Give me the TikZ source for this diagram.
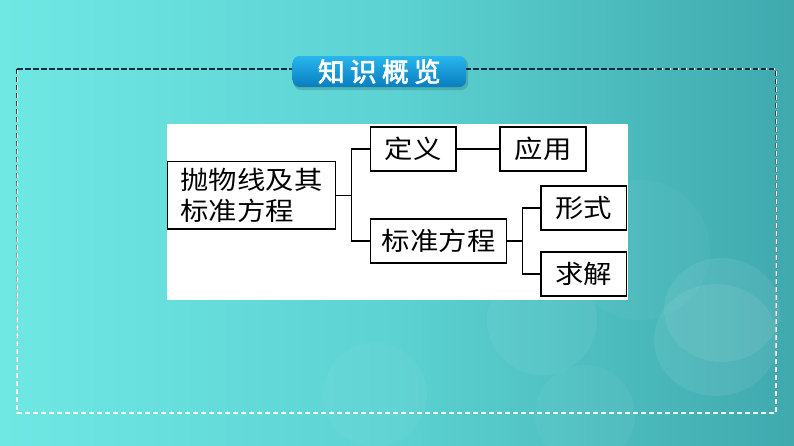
\documentclass[tikz,border=0pt]{standalone}
\usepackage{fontspec}
\usepackage{tikz}
\usetikzlibrary{fadings}
\newfontfamily\cjk[FakeStretch=1.12]{Noto Sans CJK SC}
\newfontfamily\cjkbold[FakeBold=2.5]{Noto Sans CJK SC}
\definecolor{bgLeft}{HTML}{6FE8E4}
\definecolor{bgMid}{HTML}{5CD2D2}
\definecolor{bgRight}{HTML}{3FA9AE}
\definecolor{bannerTop}{HTML}{27B6EE}
\definecolor{bannerBot}{HTML}{0A7DBE}
\definecolor{frameDark}{HTML}{1B2C3E}
\tikzfading[name=fadedown, top color=transparent!0, bottom color=transparent!100]

\begin{document}
\begin{tikzpicture}[x=0.75pt, y=-0.75pt,
    box/.style={draw=black, line width=1.1pt, fill=white, inner sep=0pt,
      minimum height=33pt, font=\cjk\fontsize{19}{23.8}\selectfont},
    link/.style={line width=1.1pt, black}]
  \useasboundingbox (0,0) rectangle (794,446);
  % background
  \shade[left color=bgLeft, right color=bgRight, middle color=bgMid] (0,0) rectangle (794,446);
  \fill[white, opacity=0.05] (542,320) circle (55);
  \fill[white, opacity=0.07] (722,310) ellipse (58 and 52);
  \fill[white, opacity=0.07] (716,340) ellipse (62 and 56);
  \fill[white, opacity=0.04] (375,395) circle (52);
  \fill[white, opacity=0.04] (585,415) circle (50);
  \fill[white, opacity=0.03] (640,250) circle (70);
  % dashed frame
  \draw[white, line width=1pt, dash pattern=on 4pt off 2pt]
    (17,69) rectangle (776,413);
  \draw[frameDark, line width=1pt, dash pattern=on 4pt off 2pt, path fading=fadedown]
    (17,69) rectangle (776,413);
  % title
  \fill[black, opacity=0.15, rounded corners=5pt] (294,58) rectangle (468,90);
  \shade[top color=bannerTop, bottom color=bannerBot, rounded corners=5pt]
    (292.7,56) rectangle (466,87);
  \node[text=white, font=\cjkbold\fontsize{20}{22}\selectfont] (title) at (379.3,71.5)
    {知\hspace{4pt}识\hspace{4pt}概\hspace{4pt}览};
  % panel
  \fill[white] (166.5,123.5) rectangle (628,299.5);
  \node[box, minimum width=126.3pt, minimum height=50.5pt, align=left,
    inner xsep=9pt] (root) at (251.5,195.3)
    {抛物线及其\\标准方程\hspace*{1em}};
  \node[box, minimum width=64pt] (def) at (413.3,148.8) {定义};
  \node[box, minimum width=64.5pt] (app) at (543,148.8) {应用};
  \node[box, minimum width=102pt] (std) at (438.7,241.2) {标准方程};
  \node[box, minimum width=64.3pt] (form) at (583.8,207.8) {形式};
  \node[box, minimum width=64.3pt] (solve) at (583.8,274.2) {求解};
  \coordinate (j1) at (351.7,195.3);
  \coordinate (j2) at (522.7,241.2);
  \draw[link] (root.east) -- (j1);
  \draw[link] (def.west) -| (j1);
  \draw[link] (std.west) -| (j1);
  \draw[link] (def) -- (app);
  \draw[link] (std.east) -- (j2);
  \draw[link] (form.west) -| (j2);
  \draw[link] (solve.west) -| (j2);
\end{tikzpicture}
\end{document}
